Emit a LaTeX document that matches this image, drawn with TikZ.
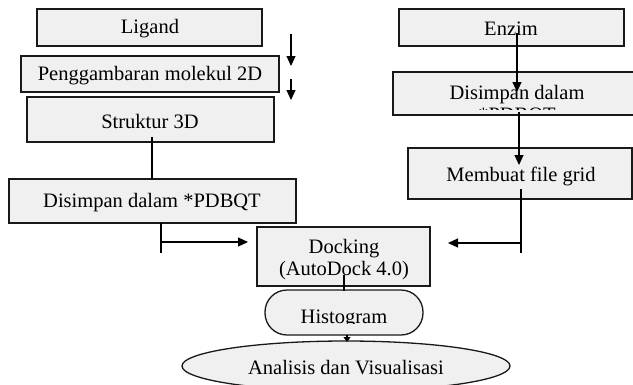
\documentclass[tikz,border=0pt]{standalone}
\usepackage{fontspec}
\setmainfont{Liberation Serif}
\usetikzlibrary{arrows.meta,shapes.geometric}
\begin{document}
\begin{tikzpicture}[x=1pt,y=-1pt,
  box/.style={draw=black!90,line width=1.3pt,fill=black!6},
  lbl/.style={inner sep=0pt,font=\fontsize{20.5}{22}\selectfont,align=center},
  conn/.style={line width=1.1pt,draw=black},
  arr/.style={conn,-{Triangle[length=10pt,width=9pt]}}]
\useasboundingbox (0,0) rectangle (633,384);
% left column
\draw[box] (37,9) rectangle (262,46);
\node[lbl] (ligand) at (150,29) {Ligand};
\draw[box] (21,56) rectangle (279,92);
\node[lbl] (peng) at (150,76) {Penggambaran molekul 2D};
\draw[box] (27,97) rectangle (274,142);
\node[lbl] (struk) at (150,121) {Struktur 3D};
\draw[box] (9,179) rectangle (296,223);
\node[lbl] (pdbqt) at (152,203) {Disimpan dalam *PDBQT};
% docking
\draw[box] (257,227) rectangle (430,286);
\node[lbl] (dock) at (344,260) {Docking\\(AutoDock 4.0)};
% right column
\draw[box] (399,9) rectangle (624,46);
\node[lbl] (enzim) at (511,29) {Enzim};
\draw[box] (393,72) rectangle (641,115);
\begin{scope}
  \clip (393,72) rectangle (641,109);
  \node[lbl] (simpan) at (517,105) {Disimpan dalam\\*PDBQT};
\end{scope}
\draw[box] (408,148) rectangle (632,199);
\node[lbl] (grid) at (521,176) {Membuat file grid};
% histogram
\draw[box,rounded corners=22pt] (265,290) rectangle (423,335);
\begin{scope}
  \clip (265,290) rectangle (423,323.5);
  \node[lbl] (histo) at (344,319) {Histogram};
\end{scope}
% ellipse
\draw[box] (346,366) ellipse [x radius=164, y radius=25];
\node[lbl] (anal) at (346,368) {Analisis dan Visualisasi};
% connectors
\coordinate (a1s) at (291,34); \coordinate (a1e) at (291,66);
\draw[arr] (a1s) -- (a1e);
\coordinate (a2s) at (291,79); \coordinate (a2e) at (291,100);
\draw[arr] (a2s) -- (a2e);
\coordinate (l1s) at (152,137); \coordinate (l1e) at (152,179);
\draw[conn] (l1s) -- (l1e);
\coordinate (l2s) at (161,223); \coordinate (l2e) at (161,253);
\draw[conn] (l2s) -- (l2e);
\coordinate (l2m) at (161,242); \coordinate (l2t) at (248,242);
\draw[arr] (l2m) -- (l2t);
\coordinate (e1s) at (517,33); \coordinate (e1e) at (517,92);
\draw[arr] (e1s) -- (e1e);
\coordinate (e2s) at (519,112); \coordinate (e2e) at (519,165);
\draw[arr] (e2s) -- (e2e);
\coordinate (g1s) at (521,189); \coordinate (g1e) at (521,253);
\draw[conn] (g1s) -- (g1e);
\coordinate (g1m) at (521,243); \coordinate (g1t) at (448,243);
\draw[arr] (g1m) -- (g1t);
\coordinate (d1s) at (344,275); \coordinate (d1e) at (344,291);
\draw[conn] (d1s) -- (d1e);
\coordinate (h1s) at (347,335); \coordinate (h1e) at (347,342);
\draw[conn,-{Triangle[length=5pt,width=7pt]}] (h1s) -- (h1e);
\end{tikzpicture}
\end{document}
